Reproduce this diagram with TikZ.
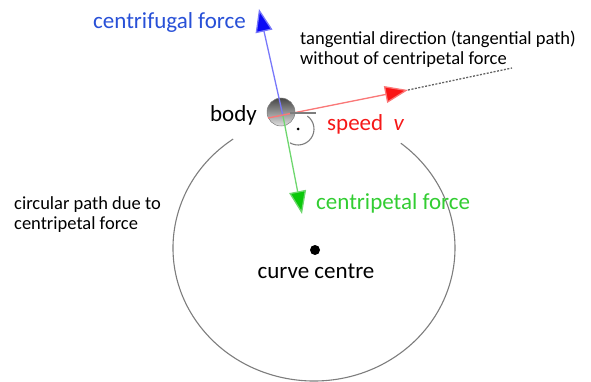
\documentclass[tikz,border=0pt]{standalone}
\usepackage{fontspec}
\setmainfont{Carlito}
\usetikzlibrary{arrows.meta}
\definecolor{cfblue}{RGB}{40,80,215}
\definecolor{headblue}{RGB}{10,10,245}
\definecolor{lineblue}{RGB}{120,120,250}
\definecolor{headred}{RGB}{250,20,20}
\definecolor{linered}{RGB}{250,120,120}
\definecolor{txtred}{RGB}{245,25,25}
\definecolor{headgreen}{RGB}{10,200,10}
\definecolor{linegreen}{RGB}{110,215,110}
\definecolor{txtgreen}{RGB}{50,205,50}
\definecolor{pathgray}{RGB}{125,125,125}
\tikzset{
  lbl/.style={inner sep=0pt, anchor=west, font=\fontsize{23}{26}\selectfont},
  small/.style={inner sep=0pt, anchor=west, align=left, font=\fontsize{18.5}{20}\selectfont},
}
\begin{document}
\begin{tikzpicture}[x=1pt,y=-1pt]
\useasboundingbox (0,0) rectangle (591,382);
% circular path with gap at top
\draw[pathgray, line width=1.1pt] (314,248) ++(-125:141 and 133) arc[start angle=-125, end angle=-412, x radius=141, y radius=133];
% centre
\node[circle, fill=black, inner sep=0pt, minimum size=10pt] (centre) at (315,250) {};
\node[lbl, anchor=center] (centretxt) at (316,271) {curve centre};
% body
\node[circle, draw=pathgray, line width=0.5pt, top color=gray!55!black, bottom color=gray!25, inner sep=0pt, minimum size=28pt] (body) at (281,112) {};
\coordinate (bc) at (283,116);
\coordinate (redstart) at (268,118);
\coordinate (bluetip) at (259,9);
\coordinate (greentip) at (302,214);
\coordinate (redtip) at (408,90);
\coordinate (dotend) at (512,68);
% tangent direction
\draw[pathgray!80!black, line width=1.3pt, dash pattern=on 2pt off 1.5pt] (redtip) -- (dotend);
% arrows
\draw[lineblue, line width=1.3pt, -{Triangle[length=23pt,width=17pt,fill=headblue]}] (bc) -- (bluetip);
\draw[linegreen, line width=1.3pt, -{Triangle[length=23pt,width=17pt,fill=headgreen]}] (bc) -- (greentip);
\draw[linered, line width=1.3pt, -{Triangle[length=23pt,width=17pt,fill=headred]}] (redstart) -- (redtip);
% right angle mark
\coordinate (ra) at (298,129);
\draw[pathgray, line width=1.1pt] (290,113) -- (316,113);
\draw[pathgray, line width=1.1pt] (ra) ++(-54:16) arc[start angle=-54, end angle=120, radius=16];
\node[circle, fill=black, inner sep=0pt, minimum size=3pt] (radot) at (ra) {};
% labels
\node[lbl, text=cfblue] (cf) at (93,22) {centrifugal force};
\node[small] (tang) at (300,49) {tangential direction (tangential path)\\without of centripetal force};
\node[lbl, anchor=east] (bodytxt) at (257,115) {body};
\node[lbl, text=txtred] (speed) at (327,124) {speed\ \ \textit{v}};
\node[lbl, text=txtgreen] (cp) at (316,203) {centripetal force};
\node[small] (circ) at (14,215) {circular path due to\\centripetal force};
\end{tikzpicture}
\end{document}
